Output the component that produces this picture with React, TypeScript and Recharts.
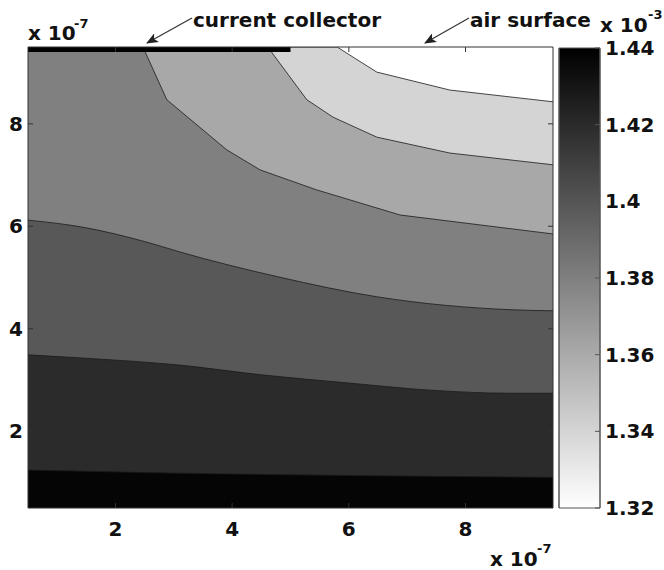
import React from 'react';
import { ComposedChart, Area, XAxis, YAxis, ReferenceArea } from 'recharts';

// contour boundaries as [x, y], both in units of 1e-7 (bottom band first)
const level1 = [[0.5, 1.24], [3.1, 1.18], [9.5, 1.1]];
const level2 = [[0.5, 3.49], [1.4, 3.43], [3.1, 3.29], [4.5, 3.1], [6.0, 2.94], [7.4, 2.8], [8.8, 2.74], [9.5, 2.74]];
const level3 = [[0.5, 6.12], [1.4, 5.99], [2.6, 5.67], [3.1, 5.5], [4.8, 5.01], [6.5, 4.62], [8.8, 4.37], [9.5, 4.35]];
const level4 = [[0.5, 9.5], [2.47, 9.5], [2.88, 8.47], [3.91, 7.49], [4.48, 7.1], [5.45, 6.71], [6.88, 6.22], [9.5, 5.85]];
const level5 = [[0.5, 9.5], [4.61, 9.5], [5.28, 8.47], [5.73, 8.13], [6.48, 7.74], [7.73, 7.43], [9.5, 7.2]];
const level6 = [[0.5, 9.5], [5.8, 9.5], [6.02, 9.34], [6.48, 9.01], [7.73, 8.66], [9.5, 8.43]];

// fill under each boundary, black at the bottom to light gray near the air surface
const bandColors = ['#050505', '#2b2b2b', '#585858', '#808080', '#a8a8a8', '#d4d4d4'];
const smoothLevels = [true, true, true, false, false, false];

const axisTicks = [2, 4, 6, 8];
const colorTicks = [1.32, 1.34, 1.36, 1.38, 1.4, 1.42, 1.44];
const collector = { from: 0.5, to: 5.0 };

const levels = [level1, level2, level3, level4, level5, level6];
const keys = levels.map((_, i) => `c${i + 1}`);

// merge into one table for the chart, each level only has its own x positions
const rowMap = new Map<number, any>();
levels.forEach((pts, i) => {
  pts.forEach(([x, y]) => {
    const row = rowMap.get(x) ?? { x };
    row[keys[i]] = y;
    rowMap.set(x, row);
  });
});
const data = [...rowMap.values()].sort((a, b) => a.x - b.x);

// colour bar: one strip spanning the whole scale
const cMin = colorTicks[0];
const cMax = colorTicks[colorTicks.length - 1];
const barData = [{ x: 0, top: cMax }, { x: 1, top: cMax }];

const font = 'DejaVu Sans, Verdana, sans-serif';
const tickStyle = { fill: '#111', fontSize: 20, fontWeight: 'bold', fontFamily: font };
const blank = () => '';

const App: React.FC = () => {
  return (
    <div style={{ position: 'absolute', left: 0, top: 0, width: 664, height: 570, background: '#fff' }}>
      <ComposedChart
        width={664}
        height={570}
        data={data}
        margin={{ top: 46, right: 110, bottom: 32, left: 0 }}
        style={{ position: 'absolute', left: 0, top: 0 }}
      >
        {[...keys].reverse().map((k) => {
          const i = keys.indexOf(k);
          return (
            <Area
              key={k}
              dataKey={k}
              type={smoothLevels[i] ? 'monotoneX' : 'linear'}
              connectNulls
              stroke="#1a1a1a"
              strokeWidth={0.8}
              fill={bandColors[i]}
              fillOpacity={1}
              dot={false}
              activeDot={false}
              isAnimationActive={false}
            />
          );
        })}
        <ReferenceArea x1={collector.from} x2={collector.to} y1={9.4} y2={9.5} fill="#000" fillOpacity={1} stroke="none" ifOverflow="visible" />
        <XAxis
          dataKey="x"
          type="number"
          domain={[0.5, 9.5]}
          ticks={axisTicks}
          allowDataOverflow
          height={30}
          tickSize={-5}
          tickMargin={19}
          stroke="#333"
          tick={tickStyle}
        />
        <XAxis
          xAxisId="top"
          orientation="top"
          dataKey="x"
          type="number"
          domain={[0.5, 9.5]}
          ticks={axisTicks}
          allowDataOverflow
          height={1}
          tickSize={-5}
          stroke="#333"
          tickFormatter={blank}
        />
        <YAxis
          type="number"
          domain={[0.5, 9.5]}
          ticks={axisTicks}
          allowDataOverflow
          width={28}
          tickSize={-5}
          tickMargin={10}
          stroke="#333"
          tick={tickStyle}
        />
        <YAxis
          yAxisId="right"
          orientation="right"
          type="number"
          domain={[0.5, 9.5]}
          ticks={axisTicks}
          allowDataOverflow
          width={1}
          tickSize={-5}
          stroke="#333"
          tickFormatter={blank}
        />
      </ComposedChart>

      <ComposedChart
        width={106}
        height={570}
        data={barData}
        margin={{ top: 48, right: 4, bottom: 62, left: 0 }}
        style={{ position: 'absolute', left: 558, top: 0 }}
      >
        <defs>
          <linearGradient id="cbGray" x1="0" y1="0" x2="0" y2="1">
            <stop offset="0%" stopColor="#000" />
            <stop offset="100%" stopColor="#fff" />
          </linearGradient>
        </defs>
        <Area
          yAxisId="r"
          dataKey="top"
          type="linear"
          baseValue={cMin}
          fill="url(#cbGray)"
          fillOpacity={1}
          stroke="none"
          dot={false}
          activeDot={false}
          isAnimationActive={false}
        />
        <XAxis dataKey="x" type="number" domain={[0, 1]} hide />
        <YAxis
          yAxisId="l"
          orientation="left"
          type="number"
          domain={[cMin, cMax]}
          ticks={colorTicks}
          interval={0}
          width={1}
          tickSize={-5}
          stroke="#555"
          tickFormatter={blank}
        />
        <YAxis
          yAxisId="r"
          orientation="right"
          type="number"
          domain={[cMin, cMax]}
          ticks={colorTicks}
          interval={0}
          width={60}
          tickSize={-5}
          tickMargin={10}
          stroke="#555"
          tick={tickStyle}
          tickFormatter={(v: number) => String(+v.toFixed(2))}
        />
        <ReferenceArea yAxisId="r" y1={cMin} y2={cMax} fill="none" stroke="#555" ifOverflow="visible" />
      </ComposedChart>

      <svg width={664} height={570} style={{ position: 'absolute', left: 0, top: 0, pointerEvents: 'none' }}>
        <defs>
          <marker id="arrowHead" markerWidth="12" markerHeight="10" refX="11" refY="5" orient="auto" markerUnits="userSpaceOnUse">
            <path d="M0,0 L12,5 L0,10 L3,5 z" fill="#222" />
          </marker>
        </defs>
        <g fontFamily={font} fontWeight="bold" fill="#111">
          <line x1={192} y1={18} x2={147} y2={43} stroke="#333" strokeWidth={1.2} markerEnd="url(#arrowHead)" />
          <line x1={469} y1={18} x2={425} y2={43} stroke="#333" strokeWidth={1.2} markerEnd="url(#arrowHead)" />
          <text x={193} y={27} fontSize={20}>current collector</text>
          <text x={470} y={27} fontSize={20}>air surface</text>
          <text x={28} y={40} fontSize={20}>x 10</text>
          <text x={74} y={28} fontSize={13}>-7</text>
          <text x={490} y={566} fontSize={20}>x 10</text>
          <text x={537} y={553} fontSize={13}>-7</text>
          <text x={600} y={32} fontSize={20}>x 10</text>
          <text x={648} y={19} fontSize={13}>-3</text>
        </g>
      </svg>
    </div>
  );
};

export default App;
